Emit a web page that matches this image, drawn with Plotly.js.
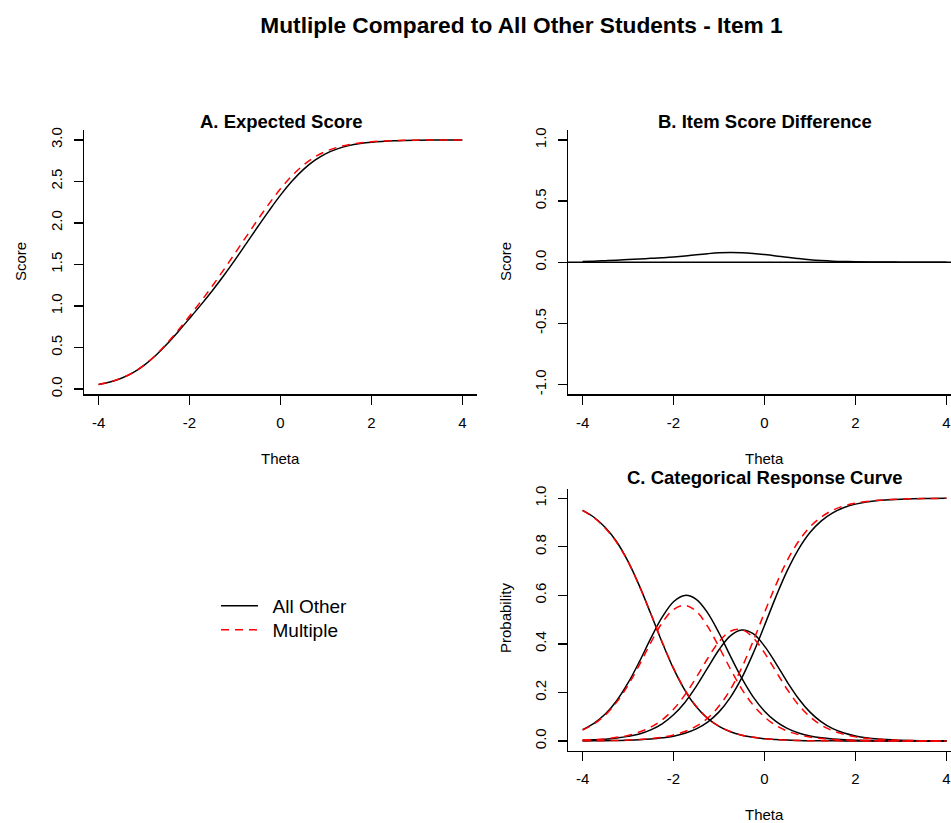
<!DOCTYPE html>
<html>
<head>
<meta charset="utf-8">
<script src="https://cdn.plot.ly/plotly-3.0.1.min.js"></script>
<style>
  html, body { margin: 0; padding: 0; background: #ffffff; }
  #chart { width: 951px; height: 823px; }
</style>
</head>
<body>
<div id="chart"></div>
<script>
// Ability grid (theta) shared by every curve
const theta = [-4, -3.75, -3.5, -3.25, -3, -2.75, -2.5, -2.25, -2, -1.75, -1.5, -1.25, -1, -0.75, -0.5, -0.25,
               0, 0.25, 0.5, 0.75, 1, 1.25, 1.5, 1.75, 2, 2.5, 3, 3.5, 4];

// A. Expected item score
const expAllOther = [0.054, 0.084, 0.129, 0.195, 0.285, 0.400, 0.538, 0.690, 0.850, 1.013, 1.184, 1.364, 1.555, 1.754, 1.954, 2.149,
                     2.335, 2.501, 2.642, 2.753, 2.835, 2.892, 2.931, 2.956, 2.972, 2.989, 2.996, 2.998, 2.999];
const expMultiple = [0.054, 0.084, 0.130, 0.196, 0.287, 0.405, 0.548, 0.708, 0.878, 1.055, 1.240, 1.434, 1.635, 1.838, 2.039, 2.232,
                     2.411, 2.567, 2.695, 2.793, 2.863, 2.911, 2.943, 2.964, 2.978, 2.991, 2.997, 2.999, 3.000];

// B. Item score difference
const scoreDiff = [0.006, 0.009, 0.013, 0.017, 0.022, 0.027, 0.032, 0.037, 0.043, 0.051, 0.061, 0.070, 0.077, 0.080, 0.078, 0.072,
                   0.063, 0.052, 0.040, 0.030, 0.021, 0.014, 0.009, 0.006, 0.004, 0.002, 0.001, 0.000, 0.000];

// C. Category response curves, All Other
const catAllOther = [
  [0.950, 0.922, 0.880, 0.821, 0.740, 0.639, 0.524, 0.406, 0.298, 0.209, 0.141, 0.093, 0.060, 0.038, 0.024, 0.015,
   0.009, 0.006, 0.004, 0.002, 0.001, 0.001, 0.001, 0.000, 0.000, 0.000, 0.000, 0.000, 0.000],
  [0.047, 0.073, 0.111, 0.166, 0.239, 0.327, 0.423, 0.510, 0.574, 0.600, 0.584, 0.528, 0.445, 0.350, 0.259, 0.182,
   0.123, 0.081, 0.052, 0.033, 0.021, 0.013, 0.008, 0.005, 0.003, 0.001, 0.001, 0.000, 0.000],
  [0.003, 0.005, 0.007, 0.012, 0.019, 0.029, 0.046, 0.071, 0.108, 0.159, 0.225, 0.301, 0.376, 0.433, 0.457, 0.442,
   0.391, 0.320, 0.243, 0.174, 0.119, 0.079, 0.051, 0.033, 0.021, 0.008, 0.003, 0.001, 0.000],
  [0.000, 0.001, 0.001, 0.002, 0.003, 0.005, 0.008, 0.013, 0.020, 0.032, 0.050, 0.078, 0.120, 0.180, 0.260, 0.361,
   0.476, 0.594, 0.702, 0.791, 0.859, 0.907, 0.940, 0.962, 0.976, 0.991, 0.996, 0.999, 1.000]
];

// C. Category response curves, Multiple
const catMultiple = [
  [0.950, 0.920, 0.877, 0.818, 0.739, 0.638, 0.525, 0.408, 0.300, 0.211, 0.143, 0.094, 0.061, 0.039, 0.024, 0.015,
   0.010, 0.006, 0.004, 0.002, 0.001, 0.001, 0.001, 0.000, 0.000, 0.000, 0.000, 0.000, 0.000],
  [0.045, 0.070, 0.107, 0.160, 0.230, 0.314, 0.405, 0.487, 0.542, 0.559, 0.534, 0.472, 0.387, 0.297, 0.214, 0.148,
   0.099, 0.064, 0.041, 0.026, 0.016, 0.010, 0.006, 0.004, 0.003, 0.001, 0.000, 0.000, 0.000],
  [0.004, 0.006, 0.009, 0.015, 0.023, 0.037, 0.057, 0.087, 0.131, 0.190, 0.262, 0.340, 0.409, 0.452, 0.459, 0.426,
   0.363, 0.287, 0.212, 0.148, 0.100, 0.065, 0.042, 0.027, 0.017, 0.007, 0.003, 0.001, 0.000],
  [0.001, 0.001, 0.002, 0.002, 0.004, 0.006, 0.010, 0.015, 0.025, 0.039, 0.061, 0.094, 0.144, 0.212, 0.302, 0.411,
   0.529, 0.643, 0.744, 0.823, 0.882, 0.923, 0.951, 0.969, 0.980, 0.992, 0.997, 0.999, 1.000]
];

// Tick labels (plain hyphen minus, as in base R graphics)
const thetaTickVals = [-4, -2, 0, 2, 4];
const thetaTickText = ['-4', '-2', '0', '2', '4'];
const scoreTickVals = [0, 0.5, 1, 1.5, 2, 2.5, 3];
const scoreTickText = ['0.0', '0.5', '1.0', '1.5', '2.0', '2.5', '3.0'];
const diffTickVals = [-1, -0.5, 0, 0.5, 1];
const diffTickText = ['-1.0', '-0.5', '0.0', '0.5', '1.0'];
const probTickVals = [0, 0.2, 0.4, 0.6, 0.8, 1];
const probTickText = ['0.0', '0.2', '0.4', '0.6', '0.8', '1.0'];

const groupNames = ['All Other', 'Multiple'];

// ---- drawing ----
const W = 951, H = 823;
const fx = p => p / W;          // pixel -> paper x
const fy = p => 1 - p / H;      // pixel -> paper y
const FONT = 'Liberation Sans, Arial, Helvetica, sans-serif';

const solid = { color: '#000000', width: 1.5, shape: 'spline' };
const dashed = { color: '#ff0000', width: 1.5, dash: '8px,6px', shape: 'spline' };

// legend entries get a small lead-in gap between key line and label
const legendLabel = s => '\u2002' + s;

const traces = [];
traces.push({ x: theta, y: expAllOther, xaxis: 'x', yaxis: 'y', mode: 'lines', line: solid,
              name: groupNames[0], showlegend: false, hoverinfo: 'skip' });
traces.push({ x: theta, y: expMultiple, xaxis: 'x', yaxis: 'y', mode: 'lines', line: dashed,
              name: groupNames[1], showlegend: false, hoverinfo: 'skip' });
traces.push({ x: theta, y: scoreDiff, xaxis: 'x2', yaxis: 'y2', mode: 'lines', line: solid,
              showlegend: false, hoverinfo: 'skip' });
catAllOther.forEach((vals, i) => traces.push({
  x: theta, y: vals, xaxis: 'x3', yaxis: 'y3', mode: 'lines', line: solid,
  name: legendLabel(groupNames[0]), legend: 'legend', showlegend: i === 0, hoverinfo: 'skip'
}));
catMultiple.forEach((vals, i) => traces.push({
  x: theta, y: vals, xaxis: 'x3', yaxis: 'y3', mode: 'lines', line: dashed,
  name: legendLabel(groupNames[1]), legend: 'legend2', showlegend: i === 0, hoverinfo: 'skip'
}));

const tickFont = { family: FONT, size: 15, color: '#000000' };
function xAxis(dom, range, anchor) {
  return {
    domain: dom, range: range, anchor: anchor,
    tickvals: thetaTickVals, ticktext: thetaTickText,
    showline: true, linecolor: '#000000', linewidth: 1.3,
    ticks: 'outside', ticklen: 9, tickwidth: 1.3, tickcolor: '#000000',
    ticklabelstandoff: 5,
    showgrid: false, zeroline: false, tickfont: tickFont, fixedrange: true
  };
}
function yAxis(dom, range, anchor, vals, text) {
  return {
    domain: dom, range: range, anchor: anchor,
    tickvals: vals, ticktext: text, tickangle: -90,
    showline: true, linecolor: '#000000', linewidth: 1.3,
    ticks: 'outside', ticklen: 9, tickwidth: 1.3, tickcolor: '#000000',
    ticklabelstandoff: 6,
    showgrid: false, zeroline: false, tickfont: tickFont, fixedrange: true
  };
}

const titleFont = { family: FONT, size: 18.5, color: '#000000' };
const labFont = { family: FONT, size: 15, color: '#000000' };
function note(text, x, y, font, angle) {
  return { text: text, x: fx(x), y: fy(y), xref: 'paper', yref: 'paper',
           xanchor: 'center', yanchor: 'middle', showarrow: false, font: font, textangle: angle || 0 };
}
function legendBox(yCenter) {
  return {
    x: fx(216), y: fy(yCenter), xanchor: 'left', yanchor: 'middle',
    bgcolor: 'rgba(0,0,0,0)', borderwidth: 0,
    font: { family: FONT, size: 19, color: '#000000' },
    itemwidth: 37
  };
}

const layout = {
  width: W, height: H,
  margin: { l: 0, r: 0, t: 0, b: 0 },
  paper_bgcolor: '#ffffff', plot_bgcolor: '#ffffff',
  font: { family: FONT, color: '#000000' },
  title: { text: '<b>Mutliple Compared to All Other Students - Item 1</b>',
           x: fx(521.5), y: fy(25), xanchor: 'center', yanchor: 'middle',
           font: { family: FONT, size: 22.7, color: '#000000' } },
  xaxis: xAxis([fx(84), fx(477)], [-4.32, 4.32], 'y'),
  yaxis: yAxis([fy(394.3), fy(130.2)], [-0.064, 3.117], 'x', scoreTickVals, scoreTickText),
  xaxis2: xAxis([fx(568), 1], [-4.32, 4.10], 'y2'),
  yaxis2: yAxis([fy(394.3), fy(130.2)], [-1.08, 1.08], 'x2', diffTickVals, diffTickText),
  xaxis3: xAxis([fx(568), 1], [-4.32, 4.10], 'y3'),
  yaxis3: yAxis([fy(750.7), fy(488.6)], [-0.04, 1.04], 'x3', probTickVals, probTickText),
  shapes: [
    { type: 'line', xref: 'x2 domain', yref: 'y2', x0: 0, x1: 1, y0: 0, y1: 0,
      line: { color: '#000000', width: 1.5 } }
  ],
  annotations: [
    note('<b>A. Expected Score</b>', 280.5, 121.7, titleFont),
    note('<b>B. Item Score Difference</b>', 764.5, 121.7, titleFont),
    note('<b>C. Categorical Response Curve</b>', 764.5, 477.7, titleFont),
    note('Theta', 280.5, 458, labFont),
    note('Theta', 764.5, 458, labFont),
    note('Theta', 764.5, 814, labFont),
    note('Score', 20, 262, labFont, -90),
    note('Score', 505, 262, labFont, -90),
    note('Probability', 505, 618, labFont, -90)
  ],
  legend: legendBox(606),
  legend2: legendBox(630),
  showlegend: true
};

Plotly.newPlot('chart', traces, layout, { staticPlot: true, displayModeBar: false });
</script>
</body>
</html>
